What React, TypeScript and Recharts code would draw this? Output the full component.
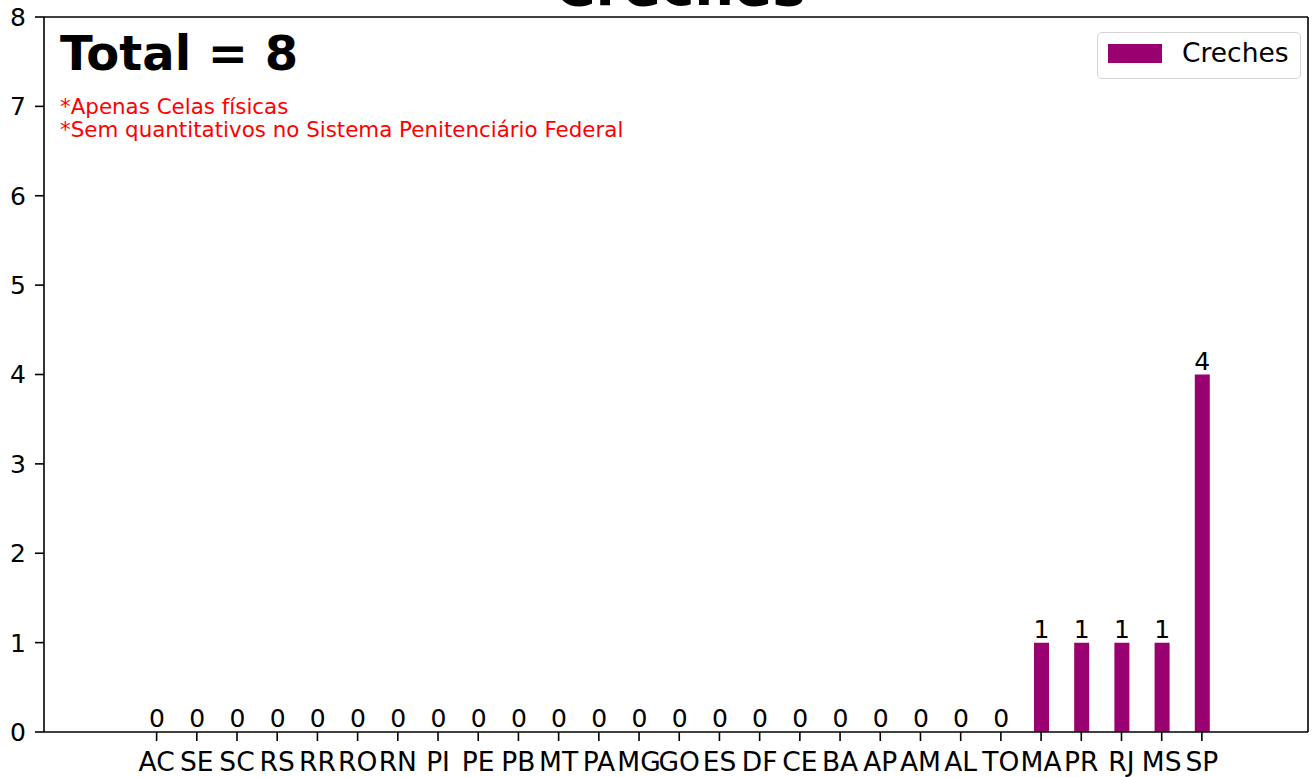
import React from "react";
import { BarChart, Bar, XAxis, YAxis, LabelList, Legend } from "recharts";

const categories = ["AC","SE","SC","RS","RR","RO","RN","PI","PE","PB","MT","PA","MG","GO","ES","DF","CE","BA","AP","AM","AL","TO","MA","PR","RJ","MS","SP"];
const creches = [0,0,0,0,0,0,0,0,0,0,0,0,0,0,0,0,0,0,0,0,0,0,1,1,1,1,4];
const yTicks = [0,1,2,3,4,5,6,7,8];
const titleText = "Creches";
const totalText = "Total = 8";
const notes = ["*Apenas Celas físicas", "*Sem quantitativos no Sistema Penitenciário Federal"];

const data = categories.map((uf, i) => ({ uf, Creches: creches[i] }));

const FONT = "DejaVu Sans";
const BAR_COLOR = "#990070";

const LegendBox = () => (
  <div
    style={{
      position: "absolute",
      left: 1097,
      top: 32,
      width: 204,
      height: 47,
      boxSizing: "border-box",
      border: "1.5px solid #d4d4d4",
      borderRadius: 5,
      background: "white",
      fontFamily: FONT,
      fontSize: 26.5,
      color: "black",
    }}
  >
    <div style={{ position: "absolute", left: 10, top: 11, width: 54, height: 19, background: BAR_COLOR }} />
    <div style={{ position: "absolute", left: 84, top: 5, lineHeight: "30px", whiteSpace: "nowrap" }}>Creches</div>
  </div>
);

export default function App() {
  return (
    <div style={{ position: "absolute", left: 0, top: 0, width: 1314, height: 777, background: "white" }}>
      <BarChart
        width={1314}
        height={777}
        data={data}
        margin={{ top: 16, right: 5, bottom: 0, left: 0 }}
        barCategoryGap={0}
      >
        <XAxis
          dataKey="uf"
          interval={0}
          height={45}
          padding={{ left: 92.5, right: 86 }}
          tickSize={9}
          tickMargin={11}
          axisLine={{ stroke: "#000", strokeWidth: 1.6 }}
          tickLine={{ stroke: "#000", strokeWidth: 1.6 }}
          tick={{ fill: "#000", fontSize: 26.5, fontFamily: FONT }}
        />
        <XAxis
          xAxisId="top"
          dataKey="uf"
          orientation="top"
          height={1}
          tick={false}
          tickLine={false}
          axisLine={{ stroke: "#000", strokeWidth: 1.6 }}
        />
        <YAxis
          width={44}
          domain={[0, 8]}
          ticks={yTicks}
          tickSize={9}
          tickMargin={9}
          axisLine={{ stroke: "#000", strokeWidth: 1.6 }}
          tickLine={{ stroke: "#000", strokeWidth: 1.6 }}
          tick={{ fill: "#000", fontSize: 25, fontFamily: FONT }}
        />
        <YAxis
          yAxisId="right"
          orientation="right"
          width={1}
          domain={[0, 8]}
          tick={false}
          tickLine={false}
          axisLine={{ stroke: "#000", strokeWidth: 1.6 }}
        />
        <Legend content={() => <LegendBox />} wrapperStyle={{ position: "absolute", left: 0, top: 0, width: 0, height: 0 }} />
        <Bar dataKey="Creches" fill={BAR_COLOR} barSize={15} minPointSize={0.01} isAnimationActive={false}>
          <LabelList dataKey="Creches" position="top" offset={5} fill="#000" fontSize={25} fontFamily={FONT} />
        </Bar>
        <text x={680} y={5} textAnchor="middle" fontFamily={FONT} fontWeight="bold" fontSize={56} fill="#000">
          {titleText}
        </text>
        <text x={60} y={70} fontFamily={FONT} fontWeight="bold" fontSize={48} fill="#000">
          {totalText}
        </text>
        <text x={60} y={114} fontFamily={FONT} fontSize={21.4} fill="#ff0000">
          {notes[0]}
        </text>
        <text x={60} y={136.5} fontFamily={FONT} fontSize={21.4} fill="#ff0000">
          {notes[1]}
        </text>
      </BarChart>
    </div>
  );
}
